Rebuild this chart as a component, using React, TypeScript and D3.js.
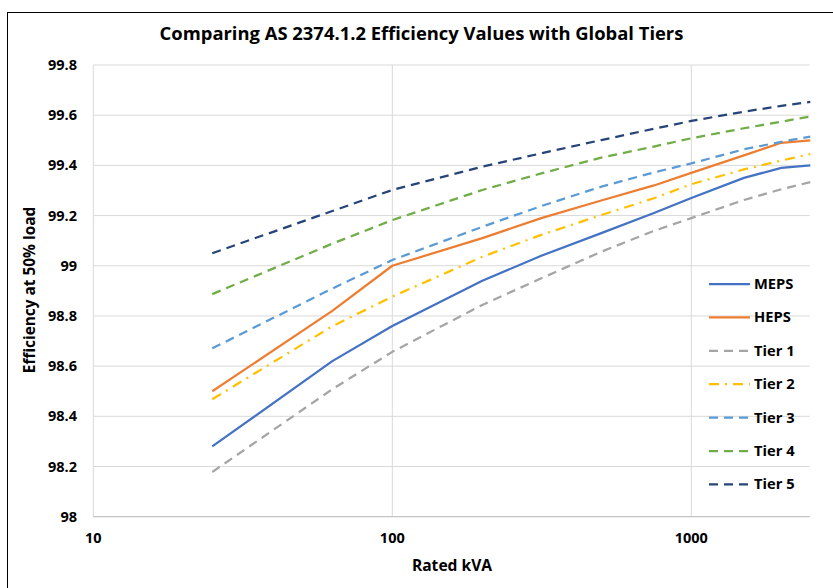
import React from "react";
import * as d3 from "d3";

const kva = [25, 63, 100, 200, 315, 500, 750, 1000, 1500, 2000, 2500];
const meps = [98.28, 98.62, 98.76, 98.94, 99.04, 99.13, 99.21, 99.27, 99.35, 99.39, 99.4];
const heps = [98.5, 98.82, 99.0, 99.11, 99.19, 99.26, 99.32, 99.37, 99.44, 99.49, 99.5];
const tier1 = [98.178, 98.508, 98.657, 98.844, 98.95, 99.056, 99.139, 99.19, 99.262, 99.305, 99.333];
const tier2 = [98.468, 98.759, 98.877, 99.036, 99.123, 99.202, 99.269, 99.325, 99.384, 99.419, 99.445];
const tier3 = [98.671, 98.909, 99.023, 99.155, 99.238, 99.315, 99.372, 99.408, 99.464, 99.494, 99.515];
const tier4 = [98.887, 99.088, 99.182, 99.302, 99.368, 99.431, 99.475, 99.508, 99.548, 99.574, 99.595];
const tier5 = [99.05, 99.218, 99.302, 99.395, 99.448, 99.501, 99.546, 99.577, 99.614, 99.637, 99.653];

const seriesNames = ["MEPS", "HEPS", "Tier 1", "Tier 2", "Tier 3", "Tier 4", "Tier 5"];
const seriesValues = [meps, heps, tier1, tier2, tier3, tier4, tier5];
const seriesColors = ["#4472C4", "#ED7D31", "#A5A5A5", "#FFC000", "#5B9BD5", "#70AD47", "#264478"];
const seriesDash = ["", "", "9,6", "10,6,2,6", "9,6", "9,6", "9,6"];

const yTicks = [98, 98.2, 98.4, 98.6, 98.8, 99, 99.2, 99.4, 99.6, 99.8];
const xTicks = [10, 100, 1000];

const title = "Comparing AS 2374.1.2 Efficiency Values with Global Tiers";
const xTitle = "Rated kVA";
const yTitle = "Efficiency at 50% load";

export default function App() {
  const left = 93.3;
  const right = 809.7;
  const top = 65;
  const bottom = 516.7;
  const x = d3.scaleLog().domain([10, 2500]).range([left, left + Math.log10(250) * 299]);
  const y = d3.scaleLinear().domain([98, 99.8]).range([bottom, top]);
  const line = d3
    .line<[number, number]>()
    .x((d) => x(d[0]))
    .y((d) => y(d[1]));
  const font = "Open Sans, sans-serif";
  const fmt = (v: number) => (Number.isInteger(v) ? String(v) : v.toFixed(1));

  return (
    <svg
      width={833}
      height={588}
      style={{ position: "absolute", left: 0, top: 0, background: "#fff" }}
      fontFamily={font}
    >
      <rect x={0} y={0} width={833} height={588} fill="#fff" />
      <rect x={7.5} y={12.5} width={840} height={600} fill="none" stroke="#000" strokeWidth={1} />
      <text x={421.5} y={39.5} textAnchor="middle" fontSize={18.4} fontWeight="bold" fill="#000">
        {title}
      </text>
      {yTicks.map((t) => (
        <line key={"gy" + t} x1={left} x2={right} y1={y(t)} y2={y(t)} stroke="#D9D9D9" strokeWidth={1} />
      ))}
      {xTicks.map((t) => (
        <line key={"gx" + t} x1={x(t)} x2={x(t)} y1={top} y2={bottom} stroke="#D9D9D9" strokeWidth={1} />
      ))}
      <line x1={left} x2={right} y1={bottom} y2={bottom} stroke="#BFBFBF" strokeWidth={1} />
      {yTicks.map((t) => (
        <text key={"ty" + t} x={77} y={y(t) + 5} textAnchor="end" fontSize={14.5} fontWeight="bold" fill="#000">
          {fmt(t)}
        </text>
      ))}
      {xTicks.map((t) => (
        <text key={"tx" + t} x={x(t)} y={543} textAnchor="middle" fontSize={14.5} fontWeight="bold" fill="#000">
          {t}
        </text>
      ))}
      <text x={452} y={571} textAnchor="middle" fontSize={15.6} fontWeight="bold" fill="#000">
        {xTitle}
      </text>
      <text
        transform={`translate(35, ${290}) rotate(-90)`}
        textAnchor="middle"
        fontSize={15.4}
        fontWeight="bold"
        fill="#000"
      >
        {yTitle}
      </text>
      {seriesValues.map((vals, i) => (
        <path
          key={"s" + i}
          d={line(kva.map((k, j) => [k, vals[j]] as [number, number])) || ""}
          fill="none"
          stroke={seriesColors[i]}
          strokeWidth={2.25}
          strokeDasharray={seriesDash[i] || undefined}
          strokeLinejoin="round"
        />
      ))}
      {seriesNames.map((n, i) => {
        const ly = 284 + i * 33.4;
        return (
          <g key={"l" + i}>
            <line
              x1={709}
              x2={750}
              y1={ly}
              y2={ly}
              stroke={seriesColors[i]}
              strokeWidth={2.25}
              strokeDasharray={seriesDash[i] || undefined}
            />
            <text x={754} y={ly + 5} fontSize={14.7} fontWeight="bold" fill="#000">
              {n}
            </text>
          </g>
        );
      })}
    </svg>
  );
}
